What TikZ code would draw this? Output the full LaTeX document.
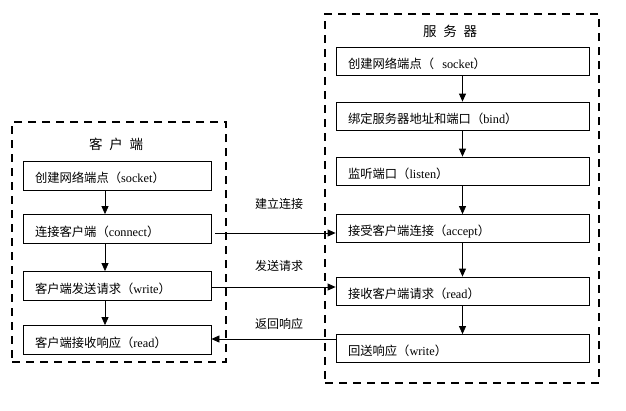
\documentclass[tikz,border=0pt]{standalone}
\usepackage{fontspec}
\setmainfont{Liberation Serif}
\newfontfamily\cjk{Noto Sans CJK SC}
\usetikzlibrary{arrows.meta}
\newcommand{\zh}[1]{{\cjk #1}}
\newcommand{\lo}[1]{\raisebox{-4pt}[9pt][3pt]{#1}}
\begin{document}
\begin{tikzpicture}[x=1pt,y=-1pt,
  frame/.style={draw,line width=1.8pt,dash pattern=on 8pt off 6pt,minimum width=#1},
  cbox/.style={draw,line width=0.8pt,minimum width=188pt,minimum height=29pt,text width=164pt,align=left,inner xsep=12pt,font=\fontsize{12.3}{14}\selectfont},
  sbox/.style={draw,line width=0.8pt,minimum width=253pt,minimum height=28pt,text width=229pt,align=left,inner xsep=12pt,font=\fontsize{12.3}{14}\selectfont},
  ttl/.style={font=\cjk\fontsize{13.5}{15}\selectfont},
  lbl/.style={font=\cjk\fontsize{12}{14}\selectfont},
  arr/.style={line width=0.8pt,-{Triangle[length=8pt,width=7pt]}}]
\useasboundingbox (0,0) rectangle (626,410);
% frames
\node[frame=214pt,minimum height=240pt] (cf) at (119,242) {};
\node[frame=274pt,minimum height=369pt] (sf) at (462,198.5) {};
\node[ttl] (ct) at (116,144) {客\hspace{0.5em}户\hspace{0.5em}端};
\node[ttl] (st) at (450,31) {服\hspace{0.5em}务\hspace{0.5em}器};
% client boxes
\node[cbox] (c1) at (117,175.5) {\lo{\zh{创建网络端点（}socket\zh{）}}};
\node[cbox] (c2) at (117,229) {\lo{\zh{连接客户端（}connect\zh{）}}};
\node[cbox] (c3) at (117,286) {\lo{\zh{客户端发送请求（}write\zh{）}}};
\node[cbox] (c4) at (117,340) {\lo{\zh{客户端接收响应（}read\zh{）}}};
% server boxes
\node[sbox] (s1) at (462.5,61) {\lo{\zh{创建网络端点（}\ \ socket\zh{）}}};
\node[sbox] (s2) at (462.5,116) {\lo{\zh{绑定服务器地址和端口（}bind\zh{）}}};
\node[sbox] (s3) at (462.5,171) {\lo{\zh{监听端口（}listen\zh{）}}};
\node[sbox] (s4) at (462.5,228.5) {\lo{\zh{接受客户端连接（}accept\zh{）}}};
\node[sbox] (s5) at (462.5,291) {\lo{\zh{接收客户端请求（}read\zh{）}}};
\node[sbox] (s6) at (462.5,348.5) {\lo{\zh{回送响应（}write\zh{）}}};
% vertical arrows
\coordinate (cx) at (105,0);
\draw[arr] (c1.south -| cx) -- (c2.north -| cx);
\draw[arr] (c2.south -| cx) -- (c3.north -| cx);
\draw[arr] (c3.south -| cx) -- (c4.north -| cx);
\draw[arr] (s1) -- (s2);
\draw[arr] (s2) -- (s3);
\draw[arr] (s3) -- (s4);
\draw[arr] (s4) -- (s5);
\draw[arr] (s5.south) -- (s6.north);
% horizontal arrows
\coordinate (h1) at (215,233);
\coordinate (h2) at (211,287);
\coordinate (h3) at (336,339);
\draw[arr] (h1) -- (h1 -| s4.west);
\draw[arr] (h2) -- (h2 -| s5.west);
\draw[arr] (h3) -- (h3 -| c4.east);
\node[lbl] (l1) at (279,204) {建立连接};
\node[lbl] (l2) at (279,266) {发送请求};
\node[lbl] (l3) at (279,324) {返回响应};
\end{tikzpicture}
\end{document}
